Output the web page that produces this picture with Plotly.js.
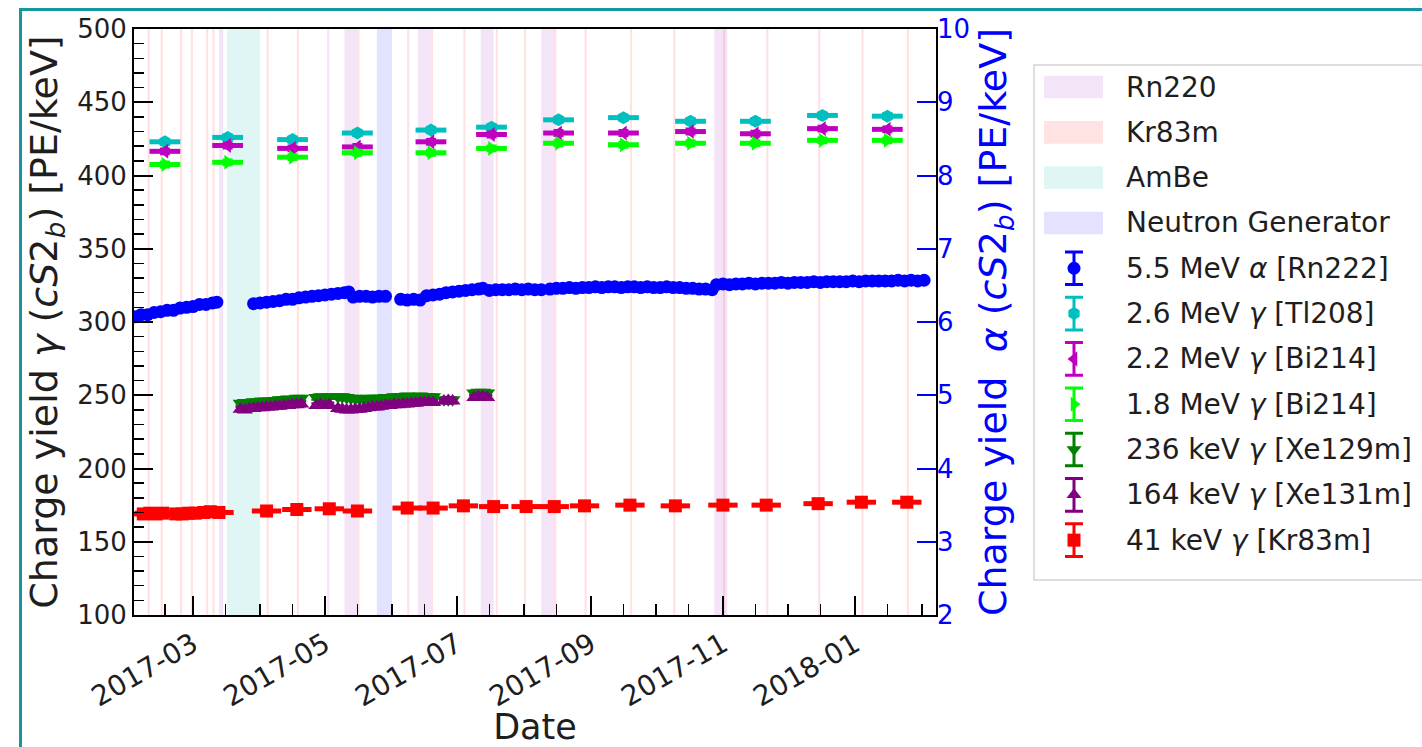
<!DOCTYPE html>
<html>
<head>
<meta charset="utf-8">
<script src="https://cdn.plot.ly/plotly-3.0.1.min.js"></script>
<style>
  html, body { margin: 0; padding: 0; background: #ffffff; }
  #chart { width: 1422px; height: 747px; }
</style>
</head>
<body>
<div id="chart"></div>
<script>
// ---------------- calibration periods ----------------
const rn220Periods = [
  ['2017-03-13', '2017-03-15'], ['2017-05-02', '2017-05-03'], ['2017-05-10', '2017-05-16'],
  ['2017-06-13', '2017-06-19'], ['2017-07-12', '2017-07-18'], ['2017-08-09', '2017-08-15'],
  ['2017-10-28', '2017-11-03']
];
const kr83mPeriods = [
  ['2017-02-08', '2017-02-09'], ['2017-02-14', '2017-02-15'], ['2017-02-23', '2017-02-24'],
  ['2017-02-28', '2017-03-01'], ['2017-03-07', '2017-03-08'], ['2017-03-10', '2017-03-11'],
  ['2017-04-04', '2017-04-05'], ['2017-04-18', '2017-04-19'], ['2017-05-16', '2017-05-17'],
  ['2017-06-08', '2017-06-09'], ['2017-06-19', '2017-06-20'], ['2017-07-04', '2017-07-05'],
  ['2017-07-19', '2017-07-20'], ['2017-08-01', '2017-08-02'], ['2017-08-15', '2017-08-16'],
  ['2017-08-29', '2017-08-30'], ['2017-09-19', '2017-09-20'], ['2017-10-09', '2017-10-10'],
  ['2017-11-01', '2017-11-02'], ['2017-11-21', '2017-11-22'], ['2017-12-15', '2017-12-16'],
  ['2018-01-04', '2018-01-05'], ['2018-01-25', '2018-01-26']
];
const amBePeriods = [['2017-03-16 16:00', '2017-04-01']];
const neutronGenPeriods = [['2017-05-25', '2017-06-01']];

// ---------------- 5.5 MeV alpha (Rn222), right axis ----------------
const alphaDates = [
  '2017-02-02','2017-02-05','2017-02-08','2017-02-11','2017-02-14','2017-02-17','2017-02-20',
  '2017-02-23','2017-02-26','2017-03-01','2017-03-04','2017-03-07','2017-03-10','2017-03-12',
  '2017-03-29','2017-04-01','2017-04-04','2017-04-07','2017-04-10','2017-04-13','2017-04-16',
  '2017-04-19','2017-04-22','2017-04-25','2017-04-28','2017-05-01','2017-05-04','2017-05-07',
  '2017-05-10','2017-05-12',
  '2017-05-14','2017-05-17','2017-05-20','2017-05-23','2017-05-26','2017-05-29',
  '2017-06-05','2017-06-08','2017-06-11','2017-06-14',
  '2017-06-17','2017-06-20','2017-06-23','2017-06-26','2017-06-29','2017-07-02','2017-07-05',
  '2017-07-08','2017-07-11','2017-07-13',
  '2017-07-16','2017-07-19','2017-07-22','2017-07-25','2017-07-28','2017-07-31','2017-08-03',
  '2017-08-06','2017-08-09',
  '2017-08-13','2017-08-16','2017-08-19','2017-08-22','2017-08-25','2017-08-28','2017-08-31',
  '2017-09-03','2017-09-06','2017-09-09','2017-09-12','2017-09-15','2017-09-18','2017-09-21',
  '2017-09-24','2017-09-27','2017-09-30','2017-10-03','2017-10-06','2017-10-09','2017-10-12',
  '2017-10-15','2017-10-18','2017-10-21','2017-10-24','2017-10-27',
  '2017-10-29','2017-11-01','2017-11-04','2017-11-07','2017-11-10','2017-11-13','2017-11-16',
  '2017-11-19','2017-11-22','2017-11-25','2017-11-28','2017-12-01','2017-12-04','2017-12-07',
  '2017-12-10','2017-12-13','2017-12-16','2017-12-19','2017-12-22','2017-12-25','2017-12-28',
  '2017-12-31','2018-01-03','2018-01-06','2018-01-09','2018-01-12','2018-01-15','2018-01-18',
  '2018-01-21','2018-01-24','2018-01-27','2018-01-30','2018-02-02'
];
const alphaYield = [
  6.07,6.10,6.10,6.13,6.14,6.16,6.16,6.19,6.20,6.21,6.24,6.24,6.26,6.27,
  6.25,6.26,6.27,6.28,6.29,6.31,6.31,6.33,6.34,6.35,6.36,6.37,6.38,6.39,6.40,6.41,
  6.34,6.35,6.35,6.34,6.35,6.35,
  6.31,6.30,6.31,6.30,
  6.36,6.37,6.38,6.40,6.41,6.42,6.43,6.44,6.45,6.46,
  6.43,6.44,6.44,6.44,6.45,6.44,6.45,6.44,6.44,
  6.45,6.46,6.46,6.47,6.46,6.47,6.47,6.48,6.47,6.48,6.48,6.47,6.48,6.48,6.47,6.48,6.47,
  6.47,6.48,6.47,6.47,6.46,6.46,6.45,6.45,6.44,
  6.51,6.52,6.51,6.52,6.52,6.53,6.52,6.53,6.53,6.53,6.54,6.53,6.54,6.54,6.54,6.55,6.54,
  6.55,6.55,6.55,6.55,6.56,6.55,6.56,6.56,6.56,6.56,6.56,6.57,6.56,6.57,6.56,6.57
];

// ---------------- high-energy gamma lines (monthly) ----------------
const gammaDates = ['2017-02-16','2017-03-17','2017-04-16','2017-05-16','2017-06-19','2017-07-17',
                    '2017-08-17','2017-09-16','2017-10-17','2017-11-16','2017-12-17','2018-01-16'];
const tl208Yield  = [423, 426, 424.5, 429, 431, 433, 438, 439.5, 437, 437, 441, 440.5];
const bi214HiYield = [416.5, 420.5, 418.5, 419.5, 423, 428, 429, 429, 430, 428.5, 432, 431.5];
const bi214LoYield = [407.5, 409, 412.5, 415.5, 415.5, 418.5, 422, 421, 422, 422, 424, 424];

// ---------------- neutron-activated xenon lines ----------------
const xenonDates = [
  '2017-03-23','2017-03-25','2017-03-27','2017-03-29','2017-03-31','2017-04-02','2017-04-04',
  '2017-04-06','2017-04-08','2017-04-10','2017-04-12','2017-04-14','2017-04-16','2017-04-18',
  '2017-04-20',
  '2017-04-27','2017-04-29','2017-05-01','2017-05-03',
  '2017-05-07','2017-05-09','2017-05-11','2017-05-13','2017-05-15','2017-05-17','2017-05-19',
  '2017-05-21','2017-05-23','2017-05-25',
  '2017-05-27','2017-05-29','2017-05-31','2017-06-02','2017-06-04','2017-06-06','2017-06-08',
  '2017-06-10','2017-06-12','2017-06-14','2017-06-16','2017-06-18','2017-06-20',
  '2017-06-25','2017-06-27','2017-06-29',
  '2017-07-09','2017-07-11','2017-07-13','2017-07-15'
];
const xe129mYield = [
  244.5,245,245,245.5,245.5,246,246,246,246.5,247,247,247.5,247,248,248,
  248.5,249,248.5,249,
  249,249,248.5,248,248,247.5,247.5,248,248,248,
  248,248.5,248.5,249,249,249,249.5,249,249,249.5,249,249,249,
  247,247,247,
  251.5,252,252,251.5
];
const xe131mYield = [
  240.5,240,241,241,241.5,241.5,242,242,242.5,242.5,243,243,243.5,243.5,244,
  243,243.5,243,243.5,
  241,240.5,240,240,240.5,240.5,241,241.5,242,242,
  242.5,243,243,243.5,243.5,244,244,244.5,244.5,245,245,245,245,
  246,246.5,246,
  248.5,249,249,248.5
];

// ---------------- 41 keV Kr83m ----------------
const kr83mDates = [
  '2017-02-06','2017-02-09','2017-02-12','2017-02-15','2017-02-21','2017-02-24','2017-02-27',
  '2017-03-02','2017-03-06','2017-03-09','2017-03-13','2017-04-04','2017-04-18','2017-05-03',
  '2017-05-16','2017-06-08','2017-06-20','2017-07-04','2017-07-18','2017-08-02','2017-08-15',
  '2017-08-29','2017-09-19','2017-10-10','2017-11-01','2017-11-21','2017-12-15','2018-01-04',
  '2018-01-25'
];
const kr83mYield = [
  169,169.5,169,169.5,169,169,169.5,169.5,170,170.5,170,171,172,172.5,
  171,173,173,174.5,174,174,174,174.5,175,174.5,175,175,176,177,177
];

// ---------------- axis ticks ----------------
const xMajorTicks = ['2017-03-01','2017-05-01','2017-07-01','2017-09-01','2017-11-01','2018-01-01'];
const xMajorLabels = ['2017-03','2017-05','2017-07','2017-09','2017-11','2018-01'];
const xMinorTicks = ['2017-02-16','2017-03-16','2017-04-01','2017-04-16','2017-05-16','2017-06-01',
  '2017-06-16','2017-07-16','2017-08-01','2017-08-16','2017-09-16','2017-10-01','2017-10-16',
  '2017-11-16','2017-12-01','2017-12-16','2018-01-16','2018-02-01'];

// ---------------- styling ----------------
const W = 1422, H = 747;
const FONT = 'DejaVu Sans, Verdana, sans-serif';
const plotBox = { left: 134, right: 936, top: 29, bottom: 615 };
const legendBox = { left: 1034, top: 65, bottom: 580 };

const bandStyles = [
  { name: 'Rn220', periods: rn220Periods, fill: 'rgba(200,120,220,0.20)' },
  { name: 'Kr83m', periods: kr83mPeriods, fill: 'rgba(255,60,60,0.15)' },
  { name: 'AmBe', periods: amBePeriods, fill: 'rgba(60,200,190,0.16)' },
  { name: 'Neutron Generator', periods: neutronGenPeriods, fill: 'rgba(40,40,255,0.13)' }
];

// 'spread' is the pixel width of the horizontal bar drawn through each point
const series = [
  { label: '5.5 MeV <i>α</i> [Rn222]', x: alphaDates, y: alphaYield, axis: 'y2',
    color: '#0000ff', symbol: 'circle', size: 13, spread: 0, ey: 0.02 },
  { label: '2.6 MeV <i>γ</i> [Tl208]', x: gammaDates, y: tl208Yield, axis: 'y',
    color: '#00bfbf', symbol: 'hexagon', size: 13, spread: 22, ey: 2 },
  { label: '2.2 MeV <i>γ</i> [Bi214]', x: gammaDates, y: bi214HiYield, axis: 'y',
    color: '#bf00bf', symbol: 'triangle-left', size: 13, spread: 22, ey: 2 },
  { label: '1.8 MeV <i>γ</i> [Bi214]', x: gammaDates, y: bi214LoYield, axis: 'y',
    color: '#00ff00', symbol: 'triangle-right', size: 13, spread: 22, ey: 2 },
  { label: '236 keV <i>γ</i> [Xe129m]', x: xenonDates, y: xe129mYield, axis: 'y',
    color: '#008000', symbol: 'triangle-down', size: 14, spread: 0, ey: 1.5 },
  { label: '164 keV <i>γ</i> [Xe131m]', x: xenonDates, y: xe131mYield, axis: 'y',
    color: '#800080', symbol: 'triangle-up', size: 14, spread: 0, ey: 1.5 },
  { label: '41 keV <i>γ</i> [Kr83m]', x: kr83mDates, y: kr83mYield, axis: 'y',
    color: '#ff0000', symbol: 'square', size: 13, spread: 21, ey: 1.5 }
];

// ---------------- traces ----------------
const traces = [];
series.forEach(s => {
  traces.push({
    type: 'scatter', mode: 'markers', x: s.x, y: s.y, xaxis: 'x', yaxis: s.axis,
    name: s.label, showlegend: false, hoverinfo: 'x+y',
    marker: { color: s.color, symbol: s.symbol, size: s.size, line: { width: 0 } },
    error_y: { type: 'constant', value: s.ey, color: s.color, thickness: 2, width: 5 }
  });
  if (s.spread) {
    // horizontal extent of each time bin
    traces.push({
      type: 'scatter', mode: 'markers', x: s.x, y: s.y, xaxis: 'x', yaxis: s.axis,
      showlegend: false, hoverinfo: 'skip',
      marker: { symbol: 'line-ew', size: s.spread, color: s.color, line: { color: s.color, width: 5 } }
    });
  }
});

// legend glyphs for the measured lines (drawn on the legend axis pair)
const nBands = bandStyles.length;
series.forEach((s, i) => {
  traces.push({
    type: 'scatter', mode: 'markers', x: [40], y: [nBands + i], xaxis: 'x3', yaxis: 'y3',
    showlegend: false, hoverinfo: 'skip', cliponaxis: false,
    marker: { color: s.color, symbol: s.symbol, size: 13 },
    error_y: { type: 'constant', value: 0.36, color: s.color, thickness: 3, width: 9 }
  });
});

// ---------------- shapes ----------------
const shapes = [];
bandStyles.forEach(b => {
  b.periods.forEach(p => shapes.push({
    type: 'rect', xref: 'x', yref: 'y domain', x0: p[0], x1: p[1], y0: 0, y1: 1,
    fillcolor: b.fill, line: { width: 0 }, layer: 'below'
  }));
});
// legend frame
shapes.push({
  type: 'rect', xref: 'paper', yref: 'paper',
  x0: legendBox.left / W, x1: 1.05, y0: 1 - legendBox.bottom / H, y1: 1 - legendBox.top / H,
  line: { color: '#d4d4d4', width: 1.5 }, fillcolor: 'rgba(255,255,255,0)', layer: 'below'
});
// legend colour patches
bandStyles.forEach((b, i) => shapes.push({
  type: 'rect', xref: 'x3', yref: 'y3', x0: 10, x1: 69, y0: i - 0.25, y1: i + 0.25,
  fillcolor: b.fill, line: { width: 0 }
}));
// figure frame
shapes.push({
  type: 'rect', xref: 'paper', yref: 'paper', x0: 20.5 / W, x1: 1.1, y0: -0.1, y1: 1 - 9.5 / H,
  line: { color: '#14979f', width: 3 }, fillcolor: 'rgba(0,0,0,0)'
});

// ---------------- legend text ----------------
const legendLabels = bandStyles.map(b => b.name).concat(series.map(s => s.label));
const annotations = legendLabels.map((t, i) => ({
  xref: 'x3', yref: 'y3', x: 90, y: i, text: t, showarrow: false,
  xanchor: 'left', yanchor: 'middle', font: { family: FONT, size: 28, color: '#1e1e1e' }
}));

// ---------------- layout ----------------
const layout = {
  width: W, height: H,
  margin: { l: 0, r: 0, t: 0, b: 0 },
  paper_bgcolor: '#ffffff', plot_bgcolor: '#ffffff',
  font: { family: FONT, color: '#1e1e1e' },
  showlegend: false,
  xaxis: {
    type: 'date', domain: [plotBox.left / W, plotBox.right / W],
    range: ['2017-02-01 17:00', '2018-02-07 12:00'],
    showline: true, linecolor: '#000', linewidth: 2, mirror: true,
    showgrid: false, zeroline: false,
    tickmode: 'array', tickvals: xMajorTicks, ticktext: xMajorLabels,
    ticks: 'inside', ticklen: 19, tickwidth: 2, tickcolor: '#000',
    tickangle: -30, tickfont: { family: FONT, size: 28, color: '#1e1e1e' },
    minor: { tickmode: 'array', tickvals: xMinorTicks, ticks: 'inside', ticklen: 11,
             tickwidth: 1.5, tickcolor: '#000', showgrid: false },
    title: { text: 'Date', font: { family: FONT, size: 35, color: '#1e1e1e' }, standoff: 2 }
  },
  yaxis: {
    domain: [1 - plotBox.bottom / H, 1 - plotBox.top / H],
    range: [100, 500], tick0: 100, dtick: 50,
    showline: true, linecolor: '#000', linewidth: 2, mirror: true,
    showgrid: false, zeroline: false,
    ticks: 'inside', ticklen: 19, tickwidth: 2, tickcolor: '#000',
    tickfont: { family: FONT, size: 26, color: '#1e1e1e' },
    minor: { dtick: 10, ticks: 'inside', ticklen: 10, tickwidth: 1.5, tickcolor: '#000', showgrid: false },
    title: { text: 'Charge yield <i>γ</i> (<i>cS</i>2<sub><i>b</i></sub>) [PE/keV]',
             font: { family: FONT, size: 38, color: '#1e1e1e' }, standoff: 8 }
  },
  yaxis2: {
    overlaying: 'y', side: 'right', anchor: 'x',
    range: [2, 10], tick0: 2, dtick: 1,
    showline: false, showgrid: false, zeroline: false,
    ticks: 'inside', ticklen: 19, tickwidth: 2, tickcolor: '#0000ff',
    tickfont: { family: FONT, size: 26, color: '#0000ff' },
    title: { text: 'Charge yield  <i>α</i> (<i>cS</i>2<sub><i>b</i></sub>) [PE/keV]',
             font: { family: FONT, size: 38, color: '#0000ff' }, standoff: 10 }
  },
  xaxis3: { domain: [legendBox.left / W, 1], range: [0, W - legendBox.left], anchor: 'y3',
            visible: false, fixedrange: true },
  yaxis3: { domain: [1 - legendBox.bottom / H, 1 - legendBox.top / H], range: [10.88, -0.486],
            anchor: 'x3', visible: false, fixedrange: true },
  shapes: shapes,
  annotations: annotations
};

Plotly.newPlot('chart', traces, layout, { displayModeBar: false, staticPlot: true });
</script>
</body>
</html>
